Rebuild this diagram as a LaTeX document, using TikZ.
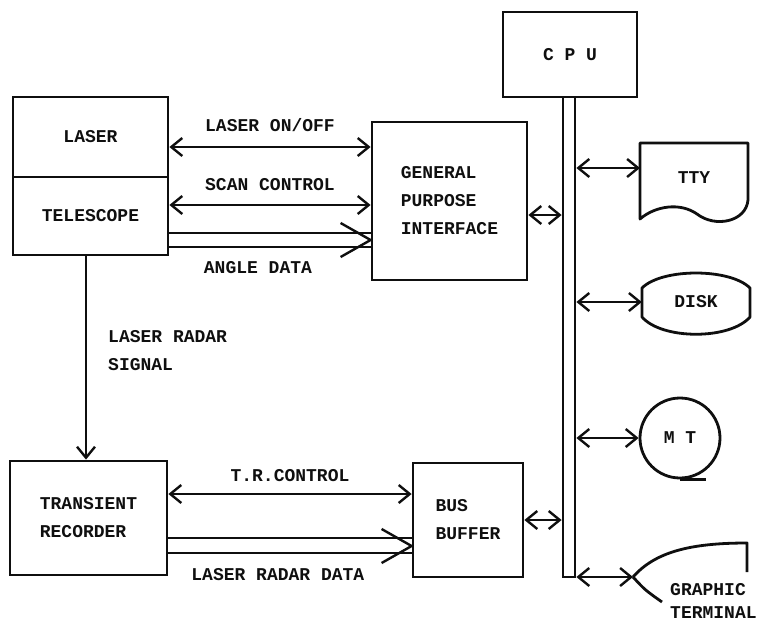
\documentclass[tikz,border=0pt]{standalone}
\usepackage{fontspec}
\setmonofont{Liberation Mono}
\usetikzlibrary{arrows.meta, calc}
\definecolor{ink}{RGB}{15,15,15}
\tikzset{every node/.append style={align=center}}
\tikzset{
  txt/.style={font=\ttfamily\bfseries\fontsize{18}{28}\selectfont, text=ink},
  blk/.style={draw=ink, line width=2.8pt, txt, inner sep=0pt},
  lbl/.style={txt, inner sep=0pt},
  wide/.style={draw=ink, line width=2.4pt, line join=round},
  link/.style={wide, {Straight Barb[length=11pt,width=18pt]}-{Straight Barb[length=11pt,width=18pt]}},
  feed/.style={wide, -{Straight Barb[length=11pt,width=18pt]}},
}

\begin{document}
\begin{tikzpicture}[x=1pt,y=-1pt]
\useasboundingbox (0,0) rectangle (761,622);

% ── Laser / telescope head ───────────────────────────────────────────────────
\node[blk, minimum width=155pt, minimum height=80pt] (laser) at (90.5,137) {LASER};
\node[blk, minimum width=155pt, minimum height=78pt] (tele) at (90.5,216) {TELESCOPE};

% ── Interface, CPU and bus ───────────────────────────────────────────────────
\node[blk, minimum width=155pt, minimum height=158pt, align=left] (gpi) at (449.5,201)
     {GENERAL\\PURPOSE\\INTERFACE};
\node[blk, minimum width=134pt, minimum height=85pt] (cpu) at (570,54.5) {C P U};
\node[blk, minimum width=12pt, minimum height=480pt] (bus) at (569,337) {};

% ── Recorder and buffer ──────────────────────────────────────────────────────
\node[blk, minimum width=157pt, minimum height=114pt, align=left] (trec) at (88.5,518)
     {TRANSIENT\\RECORDER};
\node[blk, minimum width=110pt, minimum height=114pt, align=left] (bbuf) at (468,520)
     {BUS\\BUFFER};

% ── Peripherals ──────────────────────────────────────────────────────────────
\draw[wide, line width=2.8pt] (640,143) -- (748,143) -- (748,200)
     .. controls (746,222) and (715,228) .. (697,214)
     .. controls (680,202) and (655,206) .. (640,219) -- cycle;
\node[lbl] (tty) at (694,178) {TTY};
\coordinate (ttyin) at (640,168);

\draw[wide, line width=2.8pt] (642,317) -- (642,288)
     .. controls (662,268) and (730,268) .. (750,288) -- (750,317)
     .. controls (730,340) and (662,340) .. cycle;
\node[lbl, minimum width=108pt] (disk) at (696,302) {DISK};

\node[draw=ink, line width=2.8pt, circle, minimum size=80pt, lbl] (mt) at (680,438) {M T};
\draw[wide, line width=2.8pt] (mt.south) -- ++(26,0);

\coordinate (gtin) at (633,577);
\draw[wide, line width=2.8pt] (gtin) .. controls (655,552) and (690,543) .. (747,543) -- (747,572);
\draw[wide, line width=2.8pt] (gtin) .. controls (645,590) .. (662,602);
\node[lbl, anchor=west, align=left, font=\ttfamily\bfseries\fontsize{18}{23}\selectfont]
     (gtlbl) at (670,601) {GRAPHIC\\TERMINAL};

% ── Head <-> interface ───────────────────────────────────────────────────────
\coordinate (onoff) at (0,147);
\coordinate (scan) at (0,205);
\coordinate (angA) at (0,233);
\coordinate (angB) at (0,247);
\coordinate (angT) at (0,240);
\draw[link] (laser.east |- onoff) -- (gpi.west |- onoff)
      node[lbl, midway, yshift=22pt] (onofflbl) {LASER ON/OFF};
\draw[link] (tele.east |- scan) -- (gpi.west |- scan)
      node[lbl, midway, yshift=20pt] (scanlbl) {SCAN CONTROL};
\draw[wide] (tele.east |- angA) -- (gpi.west |- angA);
\draw[wide] (tele.east |- angB) -- (gpi.west |- angB)
      node[lbl, pos=0.44, yshift=-21pt] (anglbl) {ANGLE DATA};
\draw[wide] ($(gpi.west |- angT)+(-30,-17)$) -- (gpi.west |- angT) -- ++(-30,17);

% ── Radar signal ─────────────────────────────────────────────────────────────
\coordinate (sigx) at (86,0);
\draw[feed] (tele.south -| sigx) -- (trec.north -| sigx);
\node[lbl, anchor=west, align=left] (siglbl) at (108,351) {LASER RADAR\\SIGNAL};

% ── Recorder <-> buffer ──────────────────────────────────────────────────────
\coordinate (trc) at (0,494);
\coordinate (lrdA) at (0,538);
\coordinate (lrdB) at (0,553);
\coordinate (lrdT) at (0,546);
\draw[link] (trec.east |- trc) -- (bbuf.west |- trc)
      node[lbl, midway, yshift=18pt] (trclbl) {T.R.CONTROL};
\draw[wide] (trec.east |- lrdA) -- (bbuf.west |- lrdA);
\draw[wide] (trec.east |- lrdB) -- (bbuf.west |- lrdB)
      node[lbl, pos=0.45, yshift=-22pt] (lrdlbl) {LASER RADAR DATA};
\draw[wide] ($(bbuf.west |- lrdT)+(-30,-17)$) -- (bbuf.west |- lrdT) -- ++(-30,17);

% ── Bus taps ─────────────────────────────────────────────────────────────────
\coordinate (gpibus) at (0,215);
\draw[link] (gpi.east |- gpibus) -- (bus.west |- gpibus);
\draw[link] (bbuf.east) -- (bbuf.east -| bus.west);
\draw[link] (bus.east |- ttyin) -- (ttyin);
\draw[link] (bus.east |- disk.west) -- (disk.west);
\draw[link] (bus.east |- mt.west) -- (mt.west);
\draw[link] (bus.east |- gtin) -- (gtin);

\end{tikzpicture}
\end{document}
